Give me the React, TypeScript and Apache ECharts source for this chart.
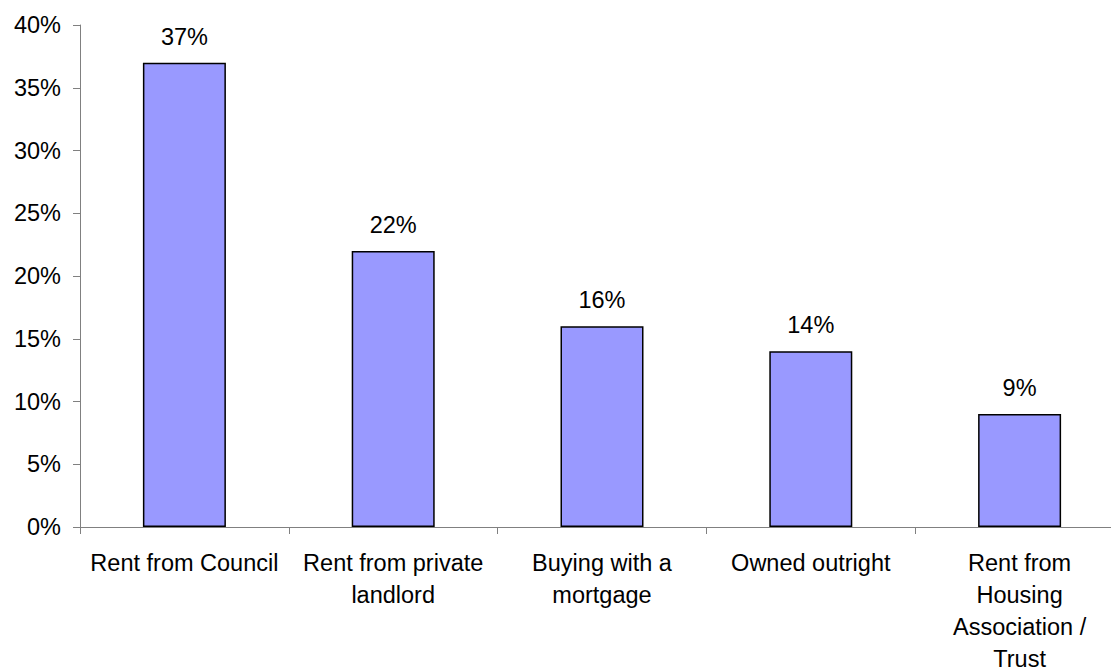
import React, { useEffect, useRef } from "react";
import * as echarts from "echarts";

const categories = [
  "Rent from Council",
  "Rent from private\nlandlord",
  "Buying with a\nmortgage",
  "Owned outright",
  "Rent from\nHousing\nAssociation /\nTrust",
];
const values = [37, 22, 16, 14, 9];
const yTicks = { min: 0, max: 40, interval: 5 };

const FONT = "'Liberation Sans', Arial, sans-serif";

export default function App() {
  const ref = useRef<HTMLDivElement>(null);
  useEffect(() => {
    if (!ref.current) return;
    const chart = echarts.init(ref.current, undefined, { renderer: "svg" });
    chart.setOption({
      animation: false,
      textStyle: { fontFamily: FONT },
      grid: { left: 80, top: 25, width: 1044, bottom: 140, outerBoundsMode: "none", containLabel: false },
      xAxis: {
        type: "category",
        data: categories,
        boundaryGap: true,
        axisLine: { lineStyle: { color: "#808080", width: 1 } },
        axisTick: { show: true, length: 7, lineStyle: { color: "#808080" } },
        axisLabel: {
          color: "#000",
          fontSize: 23.5,
          fontFamily: FONT,
          lineHeight: 32,
          margin: 20,
          interval: 0,
          align: "center",
        },
      },
      yAxis: {
        type: "value",
        min: yTicks.min,
        max: yTicks.max,
        interval: yTicks.interval,
        splitLine: { show: false },
        axisLine: { show: true, lineStyle: { color: "#808080", width: 1 } },
        axisTick: { show: true, length: 7, lineStyle: { color: "#808080" } },
        axisLabel: {
          color: "#000",
          fontSize: 23.5,
          fontFamily: FONT,
          margin: 19,
          formatter: (v: number) => v + "%",
        },
      },
      series: [
        {
          type: "bar",
          data: values,
          barWidth: 83,
          itemStyle: { color: "#9999FF", borderColor: "#000", borderWidth: 1.5 },
          label: {
            show: true,
            position: "top",
            distance: 14,
            color: "#000",
            fontSize: 23.5,
            fontFamily: FONT,
            formatter: (p: any) => p.value + "%",
          },
        },
      ],
    });
    return () => chart.dispose();
  }, []);
  return (
    <div
      ref={ref}
      style={{ position: "absolute", left: 0, top: 0, width: 1111, height: 667 }}
    />
  );
}
